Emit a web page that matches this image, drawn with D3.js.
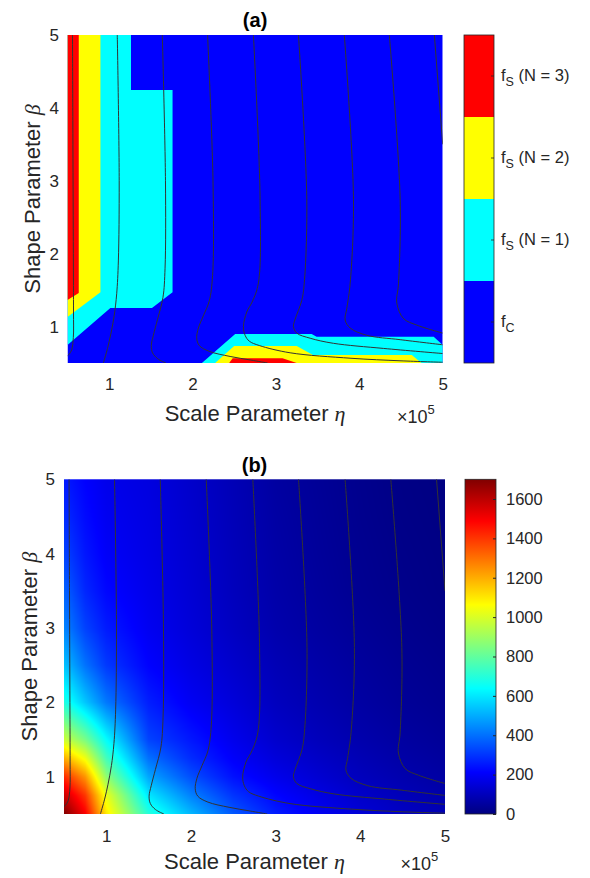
<!DOCTYPE html>
<html>
<head>
<meta charset="utf-8">
<script src="https://cdn.jsdelivr.net/npm/d3@7"></script>
<style>
  body { margin: 0; background: #fff; }
  svg { font-family: "Liberation Sans", Arial, Helvetica, sans-serif; }
</style>
</head>
<body>
<svg id="chart" width="590" height="878"></svg>
<script>
// ---- data ----
const etaRange = [0.5, 5];      // x 10^5
const betaRange = [0.5, 5];
const etaTicks = [1, 2, 3, 4, 5];
const betaTicks = [1, 2, 3, 4, 5];

const classSubs = ["C", "S", "S", "S"];
const classNotes = ["", " (N = 1)", " (N = 2)", " (N = 3)"];
const classColors = ["#0000ff", "#00ffff", "#ffff00", "#ff0000"];

// panel (a) region outlines, [eta, beta]
const regionsN1 = [
  [[0.5, 5], [1.262, 5], [1.262, 4.245], [1.76, 4.245], [1.76, 1.47], [1.513, 1.255], [1.014, 1.255], [0.5, 0.747]],
  [[2.112, 0.5], [2.511, 0.898], [3.428, 0.898], [3.488, 0.861], [4.892, 0.861], [5, 0.747], [5, 0.5]]
];
const regionsN2 = [
  [[0.5, 5], [0.895, 5], [0.895, 1.47], [0.5, 1.131]],
  [[2.271, 0.5], [2.499, 0.733], [3.249, 0.733], [3.444, 0.61], [4.629, 0.61], [4.745, 0.5]]
];
const regionsN3 = [
  [[0.5, 5], [0.635, 5], [0.635, 1.46], [0.5, 1.364]],
  [[2.439, 0.5], [2.481, 0.565], [3.079, 0.565], [3.249, 0.5]]
];

// iso-lines drawn on both panels, [eta, beta]
const contourLines = [
  [[0.56, 5], [0.565, 3.5], [0.57, 2], [0.572, 1.2], [0.57, 0.85], [0.55, 0.68], [0.52, 0.62], [0.5, 0.6]],
  [[1.097, 5], [1.12, 3], [1.11, 1.9], [1.09, 1.45], [1.06, 1.15], [1.02, 0.9], [0.98, 0.7], [0.93, 0.5]],
  [[1.637, 5], [1.675, 3], [1.67, 1.8], [1.645, 1.4], [1.58, 1.1], [1.53, 0.88], [1.505, 0.74], [1.52, 0.64], [1.58, 0.56], [1.68, 0.5]],
  [[2.18, 5], [2.245, 3], [2.24, 1.7], [2.2, 1.35], [2.13, 1.15], [2.07, 0.98], [2.05, 0.84], [2.08, 0.74], [2.2, 0.66], [2.45, 0.59], [2.7, 0.54], [2.9, 0.5]],
  [[2.73, 5], [2.81, 2.74], [2.79, 1.6], [2.72, 1.35], [2.65, 1.2], [2.61, 1.0], [2.63, 0.88], [2.68, 0.8], [2.8, 0.74], [3.17, 0.64], [3.9, 0.565], [4.5, 0.53], [5, 0.51]],
  [[3.27, 5], [3.37, 2.74], [3.34, 1.6], [3.31, 1.36], [3.23, 1.1], [3.21, 1.0], [3.25, 0.91], [3.41, 0.84], [3.69, 0.77], [4.29, 0.7], [5, 0.63]],
  [[3.82, 5], [3.93, 2.74], [3.89, 1.59], [3.85, 1.25], [3.83, 1.09], [3.89, 0.98], [4.09, 0.88], [4.49, 0.82], [5, 0.75]],
  [[4.36, 5], [4.49, 2.74], [4.47, 1.59], [4.45, 1.32], [4.53, 1.11], [4.69, 1.02], [5, 0.91]],
  [[4.9, 5], [5, 3.5]]
];

// panel (b) cost grid, rows follow gridBeta (bottom first), columns follow gridEta
const gridEta = [0.5, 0.75, 1, 1.5, 2, 2.5, 3, 3.5, 4, 4.5, 5];
const gridBeta = [0.5, 0.75, 1, 1.25, 1.5, 2, 2.5, 3, 3.5, 4, 4.5, 5];
const gridCost = [
  [1700, 1500, 1100, 700, 520, 360, 260, 195, 145, 112, 90],
  [1580, 1400, 1030, 600, 430, 300, 220, 168, 124, 94, 72],
  [1420, 1240, 880, 490, 345, 240, 180, 138, 102, 77, 58],
  [1200, 1040, 750, 400, 285, 205, 152, 118, 88, 65, 49],
  [980, 840, 640, 325, 250, 182, 130, 100, 75, 55, 40],
  [690, 545, 415, 262, 194, 150, 105, 80, 58, 40, 28],
  [540, 405, 308, 214, 166, 128, 90, 67, 48, 32, 21],
  [435, 322, 256, 190, 148, 110, 75, 55, 38, 24, 14],
  [378, 276, 222, 178, 140, 101, 68, 48, 30, 18, 9],
  [325, 248, 202, 170, 135, 97, 64, 44, 27, 15, 7],
  [285, 228, 190, 165, 130, 93, 60, 41, 24, 12, 5],
  [255, 212, 180, 160, 125, 90, 55, 38, 22, 10, 3]
];
const costTicks = [0, 200, 400, 600, 800, 1000, 1200, 1400, 1600];
const costMax = 1700;

// ---- drawing ----
const svg = d3.select("#chart");
const ink = "#262626";
const sans = "'Liberation Sans', Arial, sans-serif";
const serif = "'Liberation Serif', 'DejaVu Serif', serif";

const jet = d3.scaleLinear()
  .domain([0, 0.125, 0.375, 0.625, 0.875, 1].map(t => t * costMax))
  .range(["#000080", "#0000ff", "#00ffff", "#ffff00", "#ff0000", "#800000"])
  .clamp(true);

const panels = [
  { id: "a", title: "(a)", left: 67.5, right: 442.7, top: 35, bottom: 363,
    xPad: 15, yPad: 8.5, xLabelY: 421, yLabelX: 40, titleY: 27, expX: 397, expY: 423,
    cbLeft: 464, cbRight: 494 },
  { id: "b", title: "(b)", left: 64, right: 445, top: 479.3, bottom: 814,
    xPad: 16, yPad: 9, xLabelY: 869, yLabelX: 36.5, titleY: 472, expX: 400.5, expY: 870,
    cbLeft: 465, cbRight: 496 }
];

panels.forEach(p => {
  p.x = d3.scaleLinear().domain(etaRange).range([p.left, p.right]);
  p.y = d3.scaleLinear().domain(betaRange).range([p.bottom, p.top]);
  svg.append("clipPath").attr("id", "clip-" + p.id)
    .append("rect")
    .attr("x", p.left).attr("y", p.top)
    .attr("width", p.right - p.left).attr("height", p.bottom - p.top);
});

const [pa, pb] = panels;

// panel (a): class regions
const ga = svg.append("g").attr("clip-path", "url(#clip-a)");
ga.append("rect")
  .attr("x", pa.left).attr("y", pa.top)
  .attr("width", pa.right - pa.left).attr("height", pa.bottom - pa.top)
  .attr("fill", classColors[0]);
const polyA = d3.line().x(d => pa.x(d[0])).y(d => pa.y(d[1]));
[regionsN1, regionsN2, regionsN3].forEach((regs, i) => {
  ga.selectAll(null).data(regs).enter().append("path")
    .attr("d", d => polyA(d) + "Z")
    .attr("fill", classColors[i + 1]);
});

// panel (b): interpolated cost surface
function costAt(eta, beta) {
  const i = Math.min(Math.max(d3.bisectRight(gridEta, eta) - 1, 0), gridEta.length - 2);
  const j = Math.min(Math.max(d3.bisectRight(gridBeta, beta) - 1, 0), gridBeta.length - 2);
  const tx = (eta - gridEta[i]) / (gridEta[i + 1] - gridEta[i]);
  const ty = (beta - gridBeta[j]) / (gridBeta[j + 1] - gridBeta[j]);
  const a = gridCost[j][i], b = gridCost[j][i + 1];
  const c = gridCost[j + 1][i], d = gridCost[j + 1][i + 1];
  return (a * (1 - tx) + b * tx) * (1 - ty) + (c * (1 - tx) + d * tx) * ty;
}
const W = Math.round(pb.right - pb.left), H = Math.round(pb.bottom - pb.top);
const canvas = document.createElement("canvas");
canvas.width = W; canvas.height = H;
const ctx = canvas.getContext("2d");
const img = ctx.createImageData(W, H);
for (let r = 0; r < H; r++) {
  const beta = pb.y.invert(pb.top + (r + 0.5) * (pb.bottom - pb.top) / H);
  for (let c = 0; c < W; c++) {
    const eta = pb.x.invert(pb.left + (c + 0.5) * (pb.right - pb.left) / W);
    const col = d3.rgb(jet(costAt(eta, beta)));
    const k = (r * W + c) * 4;
    img.data[k] = col.r; img.data[k + 1] = col.g; img.data[k + 2] = col.b; img.data[k + 3] = 255;
  }
}
ctx.putImageData(img, 0, 0);
svg.append("image")
  .attr("href", canvas.toDataURL())
  .attr("x", pb.left).attr("y", pb.top)
  .attr("width", pb.right - pb.left).attr("height", pb.bottom - pb.top)
  .attr("preserveAspectRatio", "none");

// iso-lines on both panels
panels.forEach(p => {
  const line = d3.line().x(d => p.x(d[0])).y(d => p.y(d[1])).curve(d3.curveCatmullRom.alpha(0.5));
  svg.append("g").attr("clip-path", `url(#clip-${p.id})`)
    .selectAll("path").data(contourLines).enter().append("path")
    .attr("d", line)
    .attr("fill", "none")
    .attr("stroke", "#333")
    .attr("stroke-width", 1);
});

// axes, labels, titles
panels.forEach(p => {
  const gx = svg.append("g")
    .attr("transform", `translate(0,${p.bottom})`)
    .call(d3.axisBottom(p.x).tickValues(etaTicks).tickSize(0).tickPadding(p.xPad).tickFormat(d3.format("d")));
  const gy = svg.append("g")
    .attr("transform", `translate(${p.left},0)`)
    .call(d3.axisLeft(p.y).tickValues(betaTicks).tickSize(0).tickPadding(p.yPad).tickFormat(d3.format("d")));
  [gx, gy].forEach(g => {
    g.select(".domain").remove();
    g.selectAll("text").attr("font-size", 17).attr("fill", ink).attr("font-family", sans);
  });

  const cx = (p.left + p.right) / 2;
  svg.append("text")
    .attr("x", cx).attr("y", p.titleY)
    .attr("text-anchor", "middle")
    .attr("font-size", 20).attr("font-weight", "bold")
    .attr("fill", "#000")
    .text(p.title);

  const xl = svg.append("text")
    .attr("x", cx).attr("y", p.xLabelY)
    .attr("text-anchor", "middle")
    .attr("font-size", 22).attr("fill", ink);
  xl.append("tspan").text("Scale Parameter ");
  xl.append("tspan").attr("font-family", serif).attr("font-style", "italic").text("η");

  const cy = (p.top + p.bottom) / 2;
  const yl = svg.append("text")
    .attr("transform", `translate(${p.yLabelX},${cy}) rotate(-90)`)
    .attr("text-anchor", "middle")
    .attr("font-size", 22).attr("fill", ink);
  yl.append("tspan").text("Shape Parameter ");
  yl.append("tspan").attr("font-family", serif).attr("font-style", "italic").text("β");

  const ex = svg.append("text")
    .attr("x", p.expX).attr("y", p.expY)
    .attr("font-size", 18).attr("fill", ink);
  ex.append("tspan").text("×10");
  ex.append("tspan").attr("font-size", 13).attr("dy", -9).text("5");
});

// colorbar (a): four classes, bottom to top
{
  const p = pa;
  const cb = d3.scaleBand().domain(d3.range(classColors.length)).range([p.bottom, p.top]);
  const bw = cb.bandwidth();
  const g = svg.append("g");
  g.selectAll("rect").data(classColors).enter().append("rect")
    .attr("x", p.cbLeft).attr("width", p.cbRight - p.cbLeft)
    .attr("y", (d, i) => cb(i)).attr("height", bw)
    .attr("fill", d => d);
  g.append("rect")
    .attr("x", p.cbLeft).attr("y", p.top)
    .attr("width", p.cbRight - p.cbLeft).attr("height", p.bottom - p.top)
    .attr("fill", "none").attr("stroke", ink).attr("stroke-width", 0.8);
  classSubs.forEach((s, i) => {
    const ym = cb(i) + bw / 2;
    g.append("line")
      .attr("x1", p.cbRight - 3).attr("x2", p.cbRight)
      .attr("y1", ym).attr("y2", ym)
      .attr("stroke", ink).attr("stroke-width", 0.8);
    const t = g.append("text")
      .attr("x", p.cbRight + 7).attr("y", ym + 5)
      .attr("font-size", 16.5).attr("fill", ink);
    t.append("tspan").text("f");
    t.append("tspan").attr("font-size", 12.5).attr("dy", 5).text(s);
    if (classNotes[i]) t.append("tspan").attr("dy", -5).text(classNotes[i]);
  });
}

// colorbar (b): continuous cost
{
  const p = pb;
  const cy = d3.scaleLinear().domain([0, costMax]).range([p.bottom, p.top]);
  const grad = svg.append("defs").append("linearGradient")
    .attr("id", "jetGrad").attr("x1", 0).attr("y1", 1).attr("x2", 0).attr("y2", 0);
  grad.selectAll("stop").data(jet.domain()).enter().append("stop")
    .attr("offset", d => d / costMax)
    .attr("stop-color", d => jet(d));
  const g = svg.append("g");
  g.append("rect")
    .attr("x", p.cbLeft).attr("y", p.top)
    .attr("width", p.cbRight - p.cbLeft).attr("height", p.bottom - p.top)
    .attr("fill", "url(#jetGrad)").attr("stroke", ink).attr("stroke-width", 0.8);
  const ax = g.append("g")
    .attr("transform", `translate(${p.cbRight},0)`)
    .call(d3.axisRight(cy).tickValues(costTicks).tickSizeInner(-3).tickSizeOuter(0)
      .tickPadding(10).tickFormat(d3.format("d")));
  ax.select(".domain").remove();
  ax.selectAll("line").attr("stroke", ink);
  ax.selectAll("text").attr("font-size", 16.5).attr("fill", ink).attr("font-family", sans);
}
</script>
</body>
</html>
